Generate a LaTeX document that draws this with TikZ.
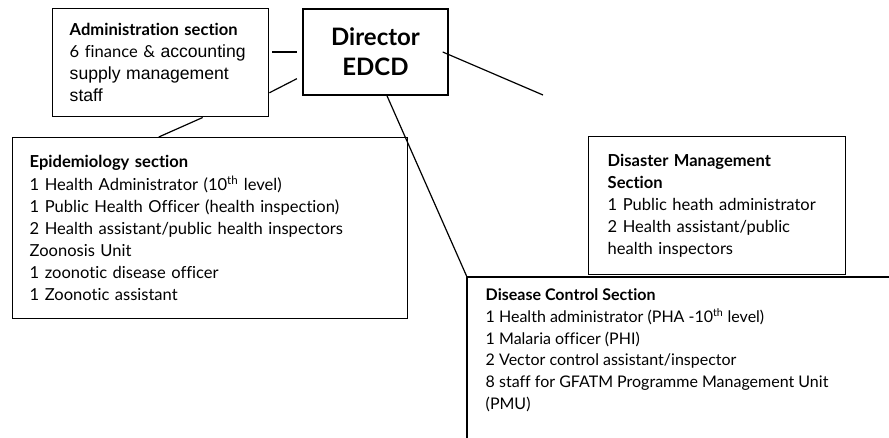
\documentclass[tikz,border=0pt]{standalone}
\usepackage{fontspec}
\setmainfont{Lato}[Ligatures=NoCommon]
\newfontfamily\arialfont{Liberation Sans}
\usetikzlibrary{positioning}
\tikzset{
  unitbox/.style={draw, line width=1.1pt, inner xsep=12.75pt, inner ysep=0pt,
    anchor=north west, align=left, font=\fontsize{12.4}{16.6}\selectfont},
  link/.style={line width=0.9pt},
}
\begin{document}
\begin{tikzpicture}[x=0.75pt,y=-0.75pt]
\clip (0,0) rectangle (889,437);

% Director
\node[draw, line width=1.1pt, minimum width=108.75pt, minimum height=64.5pt,
  align=center, font=\bfseries\fontsize{18}{22.5}\selectfont] (director) at (375.5,52) {Director\\EDCD};

% Sections
\node[unitbox, text width=136.5pt, minimum height=81pt] (admin) at (52,8)
  {\textbf{Administration section}\\
   6 finance \& {\arialfont\fontsize{13.2}{16.6}\selectfont accounting}\\
   {\arialfont\fontsize{13.2}{16.6}\selectfont supply management}\\
   {\arialfont\fontsize{13.2}{16.6}\selectfont staff}};
\node[unitbox, text width=270.75pt, minimum height=135.75pt] (epi) at (12,137)
  {\textbf{Epidemiology section}\\
   1 Health Administrator (10\textsuperscript{th} level)\\
   1 Public Health Officer (health inspection)\\
   2 Health assistant/public health inspectors\\
   Zoonosis Unit\\
   1 zoonotic disease officer\\
   1 Zoonotic assistant};
\node[unitbox, inner xsep=14.25pt, text width=164.25pt, minimum height=103.5pt] (disaster) at (588,136)
  {\textbf{Disaster Management}\\
   \textbf{Section}\\
   1 Public heath administrator\\
   2 Health assistant/public\\
   health inspectors};
\node[unitbox, draw=none, font=\fontsize{12}{16.4}\selectfont, inner xsep=13.5pt, inner ysep=8pt] (control) at (467,277)
  {\textbf{Disease Control Section}\\
   1 Health administrator (PHA -10\textsuperscript{th} level)\\
   1 Malaria officer (PHI)\\
   2 Vector control assistant/inspector\\
   8 staff for GFATM Programme Management Unit\\
   (PMU)};
\draw[line width=1.1pt] (control.north west) rectangle ++(440,200);

% Links
\coordinate (loose) at (543,95);
\draw[link] ([xshift=2pt]admin.east |- director.west) -- ([xshift=-4pt]director.west);
\draw[link] ([yshift=-22.5pt]admin.east) -- ([xshift=-4pt,yshift=-20pt]director.west);
\draw[link] ([xshift=31.5pt]admin.south) -- ([xshift=-38.6pt]epi.north);
\draw[link] ([xshift=-4.5pt]director.east) -- (loose);
\draw[link] ([xshift=8.6pt]director.south) -- (control.north west);
\end{tikzpicture}
\end{document}
